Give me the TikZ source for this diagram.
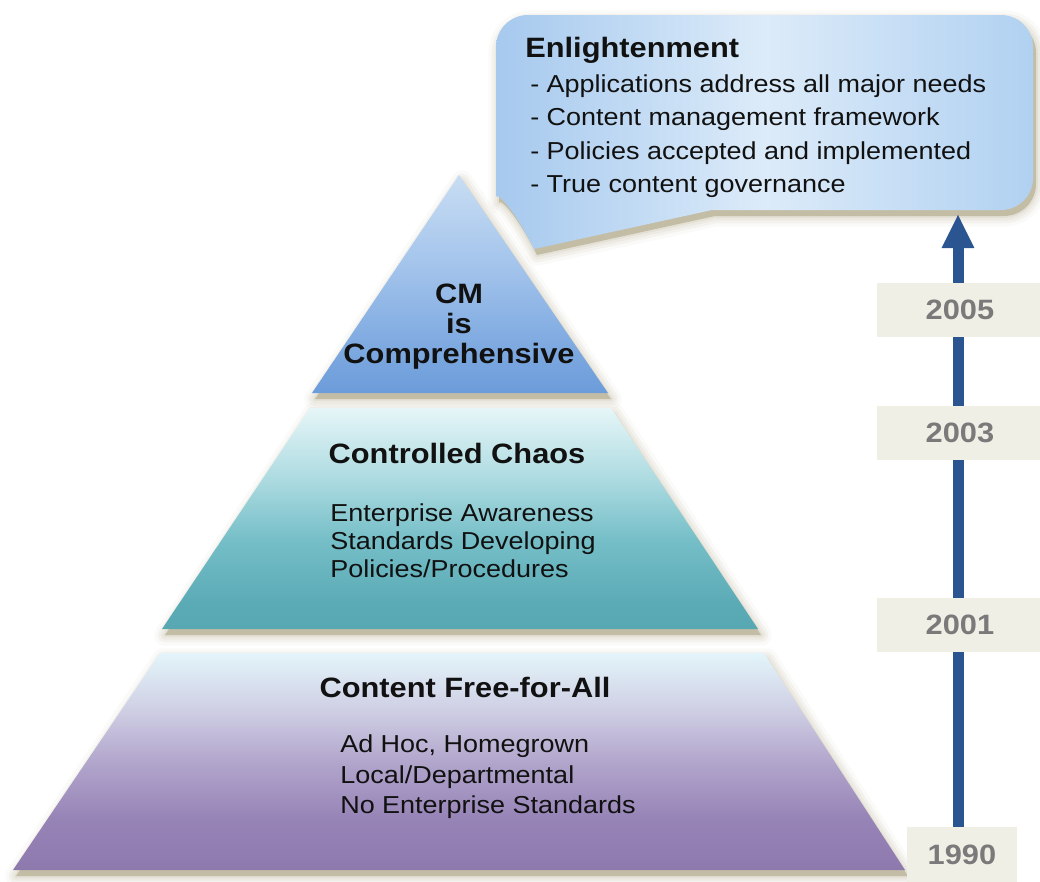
\documentclass[tikz,border=0pt]{standalone}
\usepackage{fontspec}
\setmainfont{Liberation Sans}[FakeStretch=1.1]
\usetikzlibrary{arrows.meta}

% palette
\definecolor{shadowc}{HTML}{C4BDA6}
\definecolor{yearfill}{HTML}{F0EFE6}
\definecolor{yeartext}{HTML}{7A7A7A}
\definecolor{arrowblue}{HTML}{2B5591}
\definecolor{inktext}{HTML}{111111}
\definecolor{bubbleL}{HTML}{A6C9EE}
\definecolor{bubbleM}{HTML}{DCEBF9}
\definecolor{bubbleR}{HTML}{B1D1F1}
% tier colours (bottom to top of each tier)
\definecolor{tipA}{HTML}{6C9CDA}
\definecolor{tipB}{HTML}{86AFE3}
\definecolor{tipC}{HTML}{A5C5EC}
\definecolor{tipD}{HTML}{C8DDF3}
\definecolor{midA}{HTML}{58A8B3}
\definecolor{midB}{HTML}{5BABB6}
\definecolor{midC}{HTML}{75BEC7}
\definecolor{midD}{HTML}{A9D9DF}
\definecolor{midE}{HTML}{E6F6F8}
\definecolor{baseA}{HTML}{8E79AD}
\definecolor{baseB}{HTML}{9784B7}
\definecolor{baseC}{HTML}{B2A6CC}
\definecolor{baseD}{HTML}{CFCFE4}
\definecolor{baseE}{HTML}{E3F5FA}

\pgfdeclareverticalshading{tiershadeTop}{100bp}{color(0bp)=(tipA); color(25bp)=(tipA);
  color(40bp)=(tipB); color(55bp)=(tipC); color(75bp)=(tipD); color(100bp)=(tipD)}
\pgfdeclareverticalshading{tiershadeMid}{100bp}{color(0bp)=(midA); color(25bp)=(midA);
  color(31bp)=(midB); color(45bp)=(midC); color(58bp)=(midD); color(75bp)=(midE); color(100bp)=(midE)}
\pgfdeclareverticalshading{tiershadeBase}{100bp}{color(0bp)=(baseA); color(25bp)=(baseA);
  color(37bp)=(baseB); color(50bp)=(baseC); color(62bp)=(baseD); color(75bp)=(baseE); color(100bp)=(baseE)}

% soft offset shadow behind a closed path
\newcommand\softglow[1]{%
  \foreach \w/\o in {16/0.08,11/0.12,7/0.16,3/0.22}{%
    \draw[shadowc, draw opacity=\o, line width=\w pt, line join=round, shift={(3,6)}] #1;}%
  \fill[shadowc, shift={(3,6)}] #1;}

% outline of the speech bubble with its tail
\newcommand\bubblepath{(534,249) -- (712,210) [rounded corners=24pt] -- (1033,210) -- (1033,15) -- (496,15) -- (496,165)
  [sharp corners] .. controls (496,192) and (512,205) .. (534,249) -- cycle}

\begin{document}
\begin{tikzpicture}[x=0.75pt,y=-0.75pt,
  heading/.style={font=\bfseries\fontsize{21}{25}\selectfont, text=inktext, inner sep=0pt, anchor=base},
  entry/.style={font=\fontsize{18.4}{22}\selectfont, text=inktext, inner sep=0pt, anchor=base west},
  yearbox/.style={fill=yearfill, text=yeartext, font=\bfseries\fontsize{21}{25}\selectfont,
    inner sep=0pt, minimum height=40.5pt, minimum width=125.25pt},
]
\useasboundingbox (0,0) rectangle (1040,882);

% shadows of the three tiers and the bubble
\softglow{(459,175) -- (608,393) -- (312,393) -- cycle}
\softglow{(310,408) -- (611,408) -- (758,629) -- (162,629) -- cycle}
\softglow{(160,653) -- (764,653) -- (905,870) -- (13,870) -- cycle}
\softglow{\bubblepath}

% pyramid tiers
\shade[shading=tiershadeTop] (459,175) -- (608,393) -- (312,393) -- cycle;
\shade[shading=tiershadeMid] (310,408) -- (611,408) -- (758,629) -- (162,629) -- cycle;
\shade[shading=tiershadeBase] (160,653) -- (764,653) -- (905,870) -- (13,870) -- cycle;

% speech bubble
\shade[left color=bubbleL, right color=bubbleR, middle color=bubbleM] \bubblepath;

% tier texts
\node[heading] (cm1) at (459,303) {CM};
\node[heading] (cm2) at (459,333) {is};
\node[heading] (cm3) at (459,363) {Comprehensive};

\node[heading] (chaos) at (457,463) {Controlled Chaos};
\node[entry] (chaos1) at (330,521) {Enterprise Awareness};
\node[entry] (chaos2) at (330,549) {Standards Developing};
\node[entry] (chaos3) at (330,577) {Policies/Procedures};

\node[heading] (free) at (465,697) {Content Free-for-All};
\node[entry] (free1) at (340,752) {Ad Hoc, Homegrown};
\node[entry] (free2) at (340,783) {Local/Departmental};
\node[entry] (free3) at (340,813) {No Enterprise Standards};

% bubble texts
\node[heading, anchor=base west] (enl) at (525,57) {Enlightenment};
\node[entry] (enl1) at (530,92) {- Applications address all major needs};
\node[entry] (enl2) at (530,125) {- Content management framework};
\node[entry] (enl3) at (530,159) {- Policies accepted and implemented};
\node[entry] (enl4) at (530,192) {- True content governance};

% timeline
\coordinate (tip) at (958,214);
\node[yearbox, minimum width=82.5pt, minimum height=41.25pt] (y1990) at (962,854.5) {1990};
\draw[arrowblue, line width=8.25pt, -{Triangle[length=25.5pt,width=22.5pt]}] (y1990.north -| tip) -- (tip);
\node[yearbox] (y2001) at (960,624.5) {2001};
\node[yearbox] (y2003) at (960,432.5) {2003};
\node[yearbox] (y2005) at (960,310) {2005};
\end{tikzpicture}
\end{document}
